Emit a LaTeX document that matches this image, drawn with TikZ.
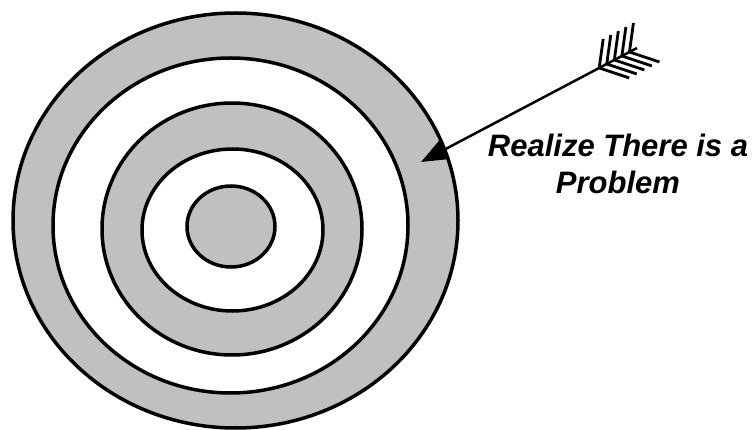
\documentclass[tikz,border=0pt]{standalone}
\usepackage{fontspec}
\setmainfont{Liberation Sans}
\usetikzlibrary{arrows.meta,calc}
\definecolor{ringgray}{RGB}{192,192,192}
\begin{document}
\begin{tikzpicture}[x=1pt,y=-1pt,
	ring/.style={draw,line width=3.5pt},
	feather/.style={line width=2.8pt}]
	\useasboundingbox (0,0) rectangle (752,430);
	
	% target rings
	\draw[ring,fill=ringgray] (235.5,220.5) ellipse [x radius=222.5,y radius=207.5];
	\draw[ring,fill=white] (230.5,225.5) ellipse [x radius=177.5,y radius=167.5];
	\draw[ring,fill=ringgray] (232,229) ellipse [x radius=130,y radius=126];
	\draw[ring,fill=white] (232.5,230) ellipse [x radius=90.5,y radius=81];
	\draw[ring,fill=ringgray] (231,226.5) ellipse [x radius=44,y radius=40.5];
	
	% arrow
	\coordinate (hit) at (421,162);
	\coordinate (tail) at (637,48);
	\draw[line width=2.5pt,-{Triangle[length=27pt,width=21pt]}] (tail) -- (hit);
	\foreach \k in {0.825,0.86,0.895,0.93,0.965}{
		\draw[feather] ($(hit)!\k!(tail)$) -- ++(4,-29);
		\draw[feather] ($(hit)!\k!(tail)$) -- ++(30,10);
	}
	
	\node[font=\fontsize{31}{37}\selectfont\bfseries\itshape,align=center] (problem) at (618,164) {Realize There is a\\Problem};
\end{tikzpicture}
\end{document}
